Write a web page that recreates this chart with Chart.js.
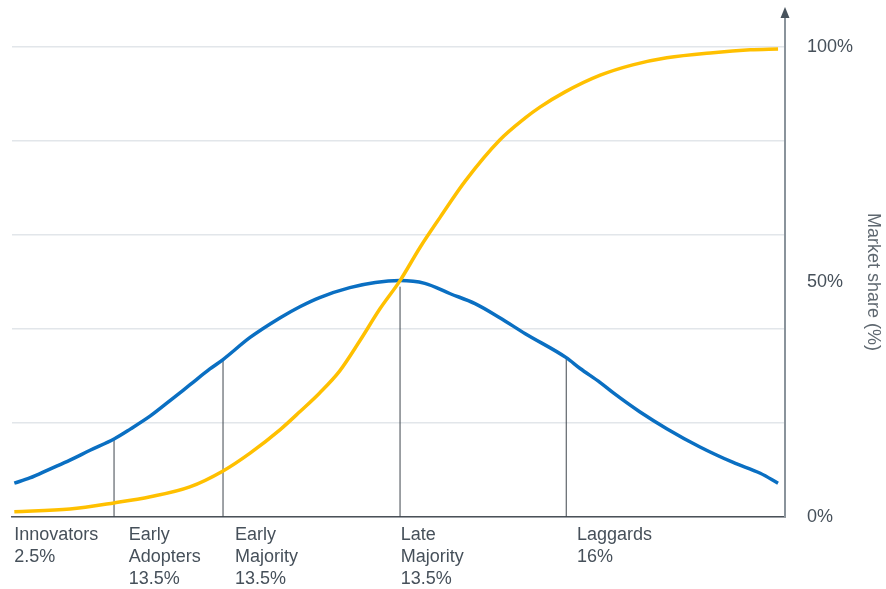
<!DOCTYPE html>
<html>
<head>
<meta charset="utf-8">
<script src="https://cdn.jsdelivr.net/npm/chart.js@4/dist/chart.umd.min.js"></script>
<style>
    html, body { margin: 0; padding: 0; background: #fff; }
    #wrap { width: 886px; height: 589px; position: relative; }
</style>
</head>
<body>
<div id="wrap"><canvas id="adoptionChart"></canvas></div>
<script>
// Adoption curve (x: position along the timeline, 0-100)
const bellX = [0.3, 2.3, 4.9, 7.5, 10.1, 13.2, 15.3, 17.9, 20.4, 23.0, 25.6, 27.3, 30.8, 34.7, 37.3, 39.8, 43.7, 47.0, 50.2, 53.4, 56.7, 59.9, 63.1, 66.4, 71.7, 73.5, 76.1, 77.8, 81.2, 84.7, 89.0, 93.3, 96.8, 99.1];
const bellY = [7.2, 8.3, 10.2, 12.1, 14.2, 16.6, 18.7, 21.5, 24.7, 28.1, 31.5, 33.5, 38.2, 42.4, 44.8, 46.7, 48.8, 49.9, 50.3, 49.7, 47.5, 45.4, 42.4, 39.0, 33.9, 31.6, 28.6, 26.4, 22.4, 18.8, 14.9, 11.6, 9.3, 7.2];

// Cumulative market share
const shareX = [0.3, 7.5, 13.2, 17.9, 23.0, 27.3, 30.8, 34.7, 37.3, 39.8, 42.4, 45.0, 47.6, 50.2, 52.8, 55.4, 58.6, 63.1, 66.4, 68.3, 71.5, 76.1, 80.3, 84.7, 90.7, 95.5, 99.1];
const shareY = [1.1, 1.7, 3.0, 4.3, 6.4, 9.8, 13.6, 18.6, 22.5, 26.4, 31.1, 37.5, 44.3, 50.3, 57.4, 63.8, 71.4, 80.2, 84.9, 87.2, 90.4, 94.0, 96.2, 97.7, 98.8, 99.4, 99.6];

// Segment dividers (x position and height of the line)
const dividerX = [13.2, 27.3, 50.2, 71.7];
const dividerTop = [16.6, 33.4, 49.0, 33.7];

// Segment labels under the axis
const segmentX = [0.3, 15.1, 28.85, 50.3, 73.1];
const segmentLabels = [
    ['Innovators', '2.5%'],
    ['Early', 'Adopters', '13.5%'],
    ['Early', 'Majority', '13.5%'],
    ['Late', 'Majority', '13.5%'],
    ['Laggards', '16%']
];

const yTickLabels = { 0: '0%', 50: '50%', 100: '100%' };

const FONT = '"Liberation Sans", Arial, sans-serif';
const TEXT = '#46505a';

const toPoints = (xs, ys) => xs.map((x, i) => ({ x, y: ys[i] }));

const dividerSets = dividerX.map((x, i) => ({
    data: [{ x, y: 0 }, { x, y: dividerTop[i] }],
    borderColor: '#3f464d',
    borderWidth: 1,
    pointRadius: 0,
    order: 10
}));

// axis arrow on top of the right-hand axis
const axisArrow = {
    id: 'axisArrow',
    afterDraw(chart) {
        const { ctx, chartArea } = chart;
        const x = chart.scales.y.left;
        ctx.save();
        ctx.strokeStyle = '#8a939b';
        ctx.lineWidth = 2;
        ctx.beginPath();
        ctx.moveTo(x, chartArea.top);
        ctx.lineTo(x, 16);
        ctx.stroke();
        ctx.fillStyle = '#47525c';
        ctx.beginPath();
        ctx.moveTo(x, 7);
        ctx.lineTo(x - 4.5, 18);
        ctx.lineTo(x + 4.5, 18);
        ctx.closePath();
        ctx.fill();
        ctx.restore();
    }
};

new Chart(document.getElementById('adoptionChart'), {
    type: 'line',
    data: {
        datasets: [
            {
                data: toPoints(shareX, shareY),
                borderColor: '#ffc000',
                borderWidth: 3.5,
                pointRadius: 0,
                cubicInterpolationMode: 'monotone',
                order: 0
            },
            {
                data: toPoints(bellX, bellY),
                borderColor: '#0a6fc2',
                borderWidth: 3.5,
                pointRadius: 0,
                cubicInterpolationMode: 'monotone',
                order: 1
            },
            ...dividerSets
        ]
    },
    options: {
        responsive: true,
        maintainAspectRatio: false,
        animation: false,
        layout: { padding: { left: 12, top: 47, right: 0, bottom: 0 } },
        plugins: {
            legend: { display: false },
            tooltip: { enabled: false }
        },
        scales: {
            x: {
                type: 'linear',
                min: 0,
                max: 100,
                grid: { display: false, drawTicks: false },
                border: { display: true, color: '#4a5158', width: 1.5 },
                afterBuildTicks: (scale) => {
                    scale.ticks = segmentX.map(v => ({ value: v }));
                },
                afterFit: (scale) => { scale.height = 72; },
                ticks: {
                    autoSkip: false,
                    maxRotation: 0,
                    align: 'start',
                    padding: 7,
                    color: TEXT,
                    font: { family: FONT, size: 18, lineHeight: 1.222 },
                    callback: (value, index) => segmentLabels[index]
                }
            },
            y: {
                position: 'right',
                min: 0,
                max: 100,
                afterFit: (scale) => { scale.width = 101; },
                grid: {
                    drawTicks: false,
                    color: (c) => (c.tick && c.tick.value % 20 === 0 ? '#e2e6ea' : 'rgba(0,0,0,0)'),
                    lineWidth: 1.5
                },
                border: { display: true, color: '#8a939b', width: 2 },
                ticks: {
                    stepSize: 10,
                    autoSkip: false,
                    padding: 22,
                    color: TEXT,
                    font: { family: FONT, size: 18 },
                    callback: (value) => yTickLabels[value] || ''
                },
                title: {
                    display: true,
                    text: 'Market share (%)',
                    color: '#5f6870',
                    font: { family: FONT, size: 18 },
                    padding: { top: 2, bottom: 0 }
                }
            }
        }
    },
    plugins: [axisArrow]
});
</script>
</body>
</html>
